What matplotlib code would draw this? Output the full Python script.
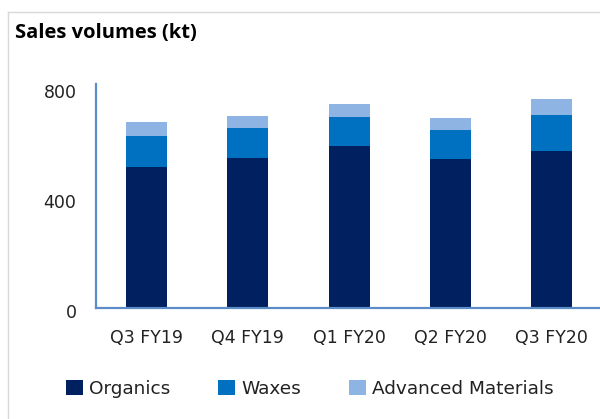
import numpy as np
import matplotlib
matplotlib.use("Agg")
import matplotlib.pyplot as plt
import matplotlib.transforms as mtransforms
from matplotlib.patches import Patch
from matplotlib.lines import Line2D

plt.rcParams['font.family'] = ['DejaVu Sans']

# dane
quarters = ['Q3 FY19', 'Q4 FY19', 'Q1 FY20', 'Q2 FY20', 'Q3 FY20']
organics = [513, 545, 589, 542, 571]
waxes = [112, 110, 106, 105, 131]
advanced = [51, 43, 47, 44, 58]

series_names = ['Organics', 'Waxes', 'Advanced Materials']
colors = ['#00205F', '#0070C0', '#8EB4E3']
axis_color = '#5B8CC8'
text_color = '#222222'

fig = plt.figure(figsize=(6.0, 4.19), dpi=100)
ax = fig.add_axes([0.16, 0.2649, 0.84, 0.5346])

x = np.arange(len(quarters))
width = 0.405
org = np.array(organics)
wax = np.array(waxes)
adv = np.array(advanced)

ax.bar(x, org, width, color=colors[0])
ax.bar(x, wax, width, bottom=org, color=colors[1])
ax.bar(x, adv, width, bottom=org + wax, color=colors[2])

ax.set_xlim(-0.5, 4.48)
ax.set_ylim(0, 814)
ax.set_yticks([0, 400, 800])
ax.set_xticks(x)
ax.set_xticklabels(quarters)

for s in ['top', 'right']:
    ax.spines[s].set_visible(False)
for s in ['left', 'bottom']:
    ax.spines[s].set_color(axis_color)
    ax.spines[s].set_linewidth(1.6)

ax.tick_params(axis='both', length=0, labelsize=12.5, colors=text_color)
ax.tick_params(axis='y', pad=14)
ax.tick_params(axis='x', pad=15)

# etykiety osi y troche nizej, jak w oryginale
shift = mtransforms.ScaledTranslation(0, -3 / 100, fig.dpi_scale_trans)
for lbl in ax.get_yticklabels():
    lbl.set_transform(lbl.get_transform() + shift)

# tytuł
fig.text(0.025, 0.922, 'Sales volumes (kt)', fontsize=14.5, fontweight='bold',
         family=['Open Sans', 'DejaVu Sans'], color='black', va='center', ha='left')

# legenda
handles = [Patch(facecolor=c, edgecolor='none') for c in colors]
fig.legend(handles, series_names, loc='center left', bbox_to_anchor=(0.11, 0.072),
           ncol=3, frameon=False, fontsize=13.3, handlelength=0.92, handleheight=0.92,
           handletextpad=0.33, columnspacing=2.6, borderpad=0, borderaxespad=0,
           labelcolor=text_color)

# ramka
fig.add_artist(Line2D([0.0133, 1.0], [0.971, 0.971], color='#D9D9D9', lw=1.0))
fig.add_artist(Line2D([0.0133, 0.0133], [0.0, 0.971], color='#D9D9D9', lw=1.0))

fig.savefig('out.png', dpi=100)
